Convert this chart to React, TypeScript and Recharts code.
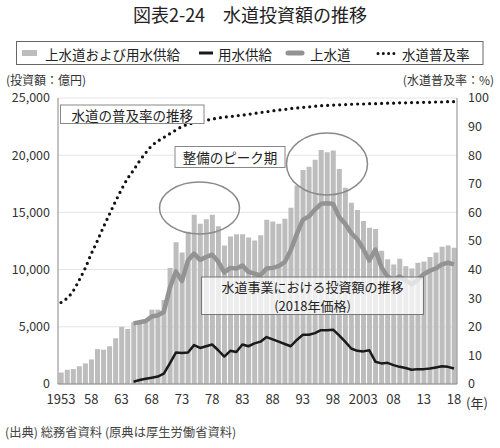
import React from 'react';
import { ComposedChart, Bar, Line, XAxis, YAxis, CartesianGrid } from 'recharts';

const FONT = '"Noto Sans CJK JP", "Noto Sans", sans-serif';

const years = [
  1953, 1954, 1955, 1956, 1957, 1958, 1959, 1960, 1961, 1962, 1963, 1964,
  1965, 1966, 1967, 1968, 1969, 1970, 1971, 1972, 1973, 1974, 1975, 1976,
  1977, 1978, 1979, 1980, 1981, 1982, 1983, 1984, 1985, 1986, 1987, 1988,
  1989, 1990, 1991, 1992, 1993, 1994, 1995, 1996, 1997, 1998, 1999, 2000,
  2001, 2002, 2003, 2004, 2005, 2006, 2007, 2008, 2009, 2010, 2011, 2012,
  2013, 2014, 2015, 2016, 2017, 2018,
];

// 上水道および用水供給 (億円)
const totalInvestment = [
  1000, 1250, 1300, 1550, 1800, 2150, 3050, 3000, 3300, 4000, 5000, 4800,
  5400, 5350, 5600, 6500, 6500, 7350, 10150, 12400, 11500, 13300, 14800, 14000,
  14400, 14800, 13800, 12100, 12900, 13100, 13100, 12800, 12550, 13000, 14350, 14200,
  14000, 14450, 15400, 17350, 18700, 19000, 19600, 20450, 20250, 20400, 18800, 17150,
  15850, 15200, 14250, 13650, 13550, 11650, 10900, 10450, 10950, 10300, 10100, 10600,
  10700, 11100, 11500, 12000, 12100, 11900,
];

// 上水道 (億円)
const upperWater = [
  null, null, null, null, null, null, null, null, null, null, null, null,
  5300, 5400, 5500, 5900, 6000, 6300, 8400, 9850, 9000, 10800, 11400, 10850,
  11100, 11300, 10700, 9750, 10150, 10100, 10350, 9800, 9650, 9500, 10100, 10150,
  10300, 10650, 11700, 13100, 14350, 14650, 15250, 15750, 15800, 15750, 14600, 14000,
  13200, 12650, 11800, 10800, 11750, 10200, 9400, 9100, 9400, 9050, 8700, 9100,
  9600, 9900, 10100, 10450, 10600, 10450,
];

// 用水供給 (億円)
const bulkSupply = [
  null, null, null, null, null, null, null, null, null, null, null, null,
  200, 350, 450, 550, 650, 900, 1800, 2750, 2700, 2750, 3400, 3150,
  3300, 3450, 2950, 2400, 2900, 2800, 3450, 3300, 3550, 3700, 4100, 3900,
  3700, 3500, 3300, 3850, 4300, 4300, 4450, 4700, 4700, 4750, 4250, 3700,
  3100, 2900, 2850, 2950, 1950, 1800, 1850, 1650, 1500, 1400, 1250, 1300,
  1300, 1350, 1450, 1550, 1500, 1350,
];

// 水道普及率 (%)
const coverageRate = [
  28.5, 30, 32.5, 36.3, 40.5, 45.5, 50, 54.8, 59.3, 63.8, 68, 71.8,
  74.8, 78, 80.8, 83.3, 84.9, 86.2, 87.5, 88.8, 90, 90.8, 91.3, 91.8,
  92.2, 92.6, 93, 93.3, 93.5, 93.8, 94, 94.3, 94.6, 94.9, 95.2, 95.5,
  95.8, 96, 96.3, 96.5, 96.7, 96.9, 97.1, 97.3, 97.4, 97.5, 97.6, 97.7,
  97.8, 97.9, 97.9, 98, 98, 98.1, 98.2, 98.2, 98.3, 98.3, 98.4, 98.4,
  98.5, 98.5, 98.6, 98.6, 98.7, 98.7,
];

const xTickYears = [1953, 1958, 1963, 1968, 1973, 1978, 1983, 1988, 1993, 1998, 2003, 2008, 2013, 2018];
const xTickLabels = ['1953', '58', '63', '68', '73', '78', '83', '88', '93', '98', '2003', '08', '13', '18'];
const leftTicks = [0, 5000, 10000, 15000, 20000, 25000];
const rightTicks = [0, 10, 20, 30, 40, 50, 60, 70, 80, 90, 100];

const data = years.map((y, i) => ({
  year: y,
  total: totalInvestment[i],
  upper: upperWater[i],
  bulk: bulkSupply[i],
  rate: coverageRate[i],
}));

const tickStyle = { fontSize: 13, fill: '#333', fontFamily: FONT };
const yTickStyle = { fontSize: 12.5, fill: '#333', fontFamily: FONT };

export default function App() {
  return (
    <div style={{ position: 'absolute', left: 0, top: 0, width: 500, height: 448, background: '#fff', fontFamily: FONT }}>
      <ComposedChart
        width={500}
        height={448}
        data={data}
        margin={{ top: 98, right: 0, bottom: 34, left: 8 }}
        barCategoryGap="12%"
      >
        <CartesianGrid yAxisId="left" vertical={false} stroke="#e4e4e4" />
        <XAxis
          dataKey="year"
          interval={4}
          tickLine={false}
          axisLine={{ stroke: '#888' }}
          height={30}
          tickMargin={5}
          tick={tickStyle}
          tickFormatter={(v: number) => {
            const k = xTickYears.indexOf(Number(v));
            return k >= 0 ? xTickLabels[k] : '';
          }}
        />
        <YAxis
          yAxisId="left"
          domain={[0, 25000]}
          ticks={leftTicks}
          width={50}
          tickLine={false}
          axisLine={{ stroke: '#888' }}
          tick={yTickStyle}
          tickFormatter={(v: number) => v.toLocaleString('en-US')}
        />
        <YAxis
          yAxisId="right"
          orientation="right"
          domain={[0, 100]}
          ticks={rightTicks}
          width={43}
          tickLine={false}
          tickMargin={5}
          axisLine={{ stroke: '#888' }}
          tick={yTickStyle}
        />
        <Bar yAxisId="left" dataKey="total" fill="#bdbdbd" isAnimationActive={false} />
        <Line
          yAxisId="left"
          dataKey="upper"
          type="linear"
          stroke="#939393"
          strokeWidth={4.5}
          strokeLinejoin="round"
          dot={false}
          isAnimationActive={false}
        />
        <Line
          yAxisId="left"
          dataKey="bulk"
          type="linear"
          stroke="#1a1a1a"
          strokeWidth={2.5}
          strokeLinejoin="round"
          dot={false}
          isAnimationActive={false}
        />
        <Line
          yAxisId="right"
          dataKey="rate"
          type="monotone"
          stroke="#111"
          strokeWidth={3.2}
          strokeDasharray="0 6"
          strokeLinecap="round"
          dot={false}
          isAnimationActive={false}
        />
      </ComposedChart>

      <svg
        width={500}
        height={448}
        style={{ position: 'absolute', left: 0, top: 0, pointerEvents: 'none' }}
        fontFamily={FONT}
      >
        <text x={250} y={14} textAnchor="middle" dominantBaseline="central" fontSize={18} fill="#222">
          図表2-24　水道投資額の推移
        </text>

        {/* legend */}
        <rect x={16.5} y={41.5} width={466.5} height={23} fill="#fff" stroke="#666" strokeWidth={1} />
        <rect x={22} y={50} width={15} height={6} fill="#bdbdbd" />
        <text x={45} y={53.5} dominantBaseline="central" fontSize={13.5} fill="#222">上水道および用水供給</text>
        <line x1={199} y1={53} x2={213} y2={53} stroke="#1a1a1a" strokeWidth={3} />
        <text x={218} y={53.5} dominantBaseline="central" fontSize={13.5} fill="#222">用水供給</text>
        <line x1={288} y1={53} x2={302} y2={53} stroke="#939393" strokeWidth={5} strokeLinecap="round" />
        <text x={310} y={53.5} dominantBaseline="central" fontSize={13.5} fill="#222">上水道</text>
        <line x1={378} y1={53.5} x2={394} y2={53.5} stroke="#111" strokeWidth={3} strokeDasharray="0 5.3" strokeLinecap="round" />
        <text x={402} y={53.5} dominantBaseline="central" fontSize={13.5} fill="#222">水道普及率</text>

        {/* axis units */}
        <text x={6} y={79.5} dominantBaseline="central" fontSize={12} fill="#333">(投資額：億円)</text>
        <text x={494} y={79.5} textAnchor="end" dominantBaseline="central" fontSize={12} fill="#333">(水道普及率：%)</text>
        <text x={466} y={402} dominantBaseline="central" fontSize={13} fill="#333">(年)</text>
        <text x={5} y={432} dominantBaseline="central" fontSize={12.3} fill="#444">(出典) 総務省資料 (原典は厚生労働省資料)</text>

        {/* annotations */}
        <rect x={60.5} y={105} width={143.5} height={18.5} fill="#fff" stroke="#888" strokeWidth={1} />
        <text x={132.2} y={114.5} textAnchor="middle" dominantBaseline="central" fontSize={13.5} fill="#222">水道の普及率の推移</text>

        <ellipse cx={199.5} cy={208} rx={40} ry={26} fill="none" stroke="#8a8a8a" strokeWidth={1.5} />
        <ellipse cx={327} cy={164} rx={40.5} ry={31} fill="none" stroke="#8a8a8a" strokeWidth={1.5} />

        <rect x={175} y={146.5} width={110} height={21} fill="#fff" stroke="#888" strokeWidth={1} />
        <text x={230} y={157} textAnchor="middle" dominantBaseline="central" fontSize={13.5} fill="#222">整備のピーク期</text>

        <rect x={201.5} y={277} width={222} height={37.5} fill="#fff" fillOpacity={0.72} stroke="#777" strokeWidth={1} />
        <text x={312.5} y={286} textAnchor="middle" dominantBaseline="central" fontSize={13} fill="#222">水道事業における投資額の推移</text>
        <text x={312.5} y={305} textAnchor="middle" dominantBaseline="central" fontSize={13} fill="#222">(2018年価格)</text>
      </svg>
    </div>
  );
}
